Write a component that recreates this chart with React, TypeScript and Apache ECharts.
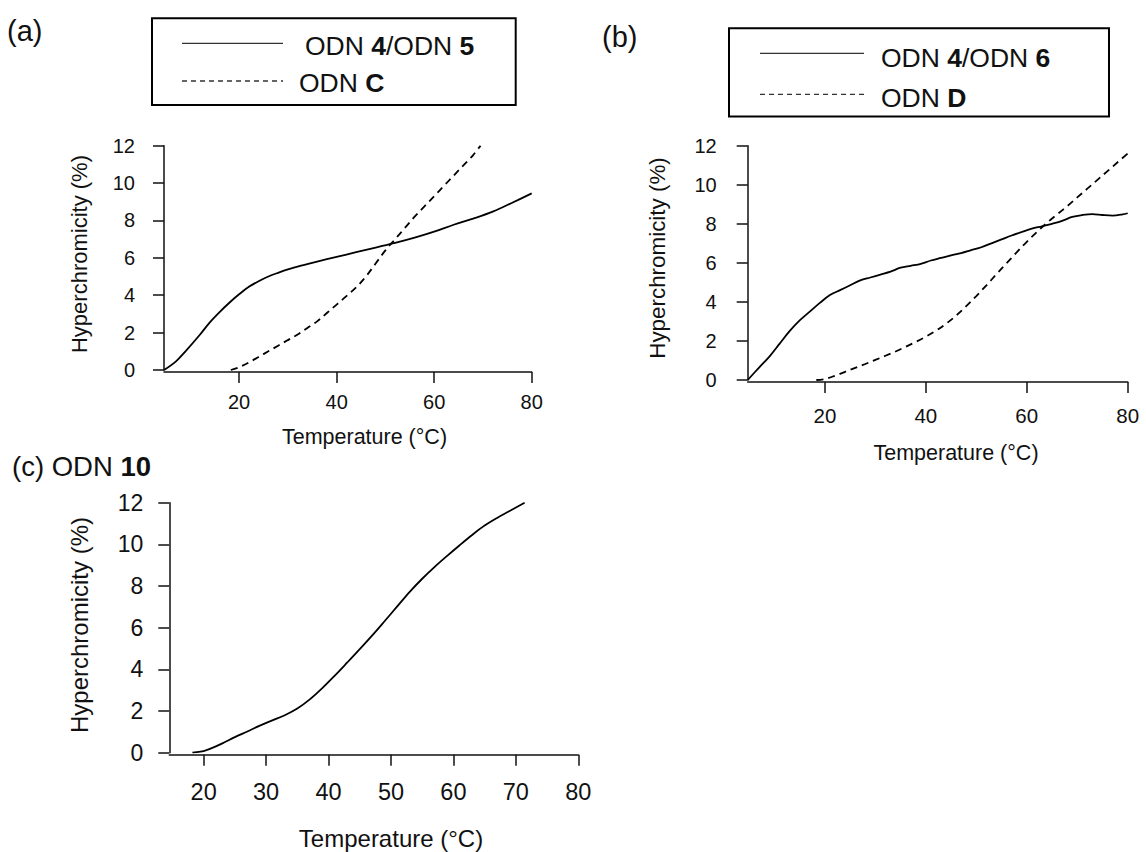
import React, { useEffect, useRef } from "react";
import * as echarts from "echarts";

// ---------- Data ----------
// Panel (a): ODN 4/ODN 5 (solid) and ODN C (dashed)
const tempA1 = [4.6, 7, 9, 12, 14, 16, 18, 20, 22, 24, 26, 28, 30, 33, 36, 40, 44, 48, 52, 56, 60, 64, 68, 72, 76, 80];
const hypA1 = [0, 0.45, 1.0, 1.9, 2.55, 3.1, 3.6, 4.05, 4.45, 4.75, 5.0, 5.2, 5.38, 5.6, 5.8, 6.05, 6.3, 6.55, 6.8, 7.08, 7.4, 7.77, 8.1, 8.47, 8.95, 9.45];
const tempA2 = [18.3, 20, 22, 24, 26, 28, 30, 32, 34, 36, 38, 40, 42, 44, 46, 48, 50, 52, 54, 56, 58, 60, 62, 64, 66, 68, 69.5];
const hypA2 = [0, 0.15, 0.4, 0.7, 1.0, 1.3, 1.6, 1.9, 2.25, 2.6, 3.05, 3.5, 3.95, 4.42, 5.0, 5.7, 6.4, 7.0, 7.6, 8.2, 8.75, 9.3, 9.85, 10.4, 10.95, 11.5, 12.0];

// Panel (b): ODN 4/ODN 6 (solid) and ODN D (dashed)
const tempB1 = [4.7, 7, 9, 11, 13, 15, 17, 19, 21, 23, 25, 27, 29, 31, 33, 35, 37, 39, 41, 43, 45, 47, 49, 51, 53, 55, 57, 59, 61, 63, 65, 67, 69, 71, 73, 75, 77, 79, 80];
const hypB1 = [0, 0.65, 1.2, 1.85, 2.5, 3.05, 3.5, 3.95, 4.35, 4.6, 4.85, 5.1, 5.25, 5.4, 5.55, 5.75, 5.85, 5.95, 6.12, 6.25, 6.38, 6.5, 6.65, 6.8, 7.0, 7.2, 7.4, 7.58, 7.75, 7.87, 8.0, 8.15, 8.35, 8.45, 8.5, 8.45, 8.42, 8.48, 8.54];
const tempB2 = [18.3, 20, 22, 24, 26, 28, 30, 32, 34, 36, 38, 40, 42, 44, 46, 48, 50, 52, 54, 56, 58, 60, 62, 64, 66, 68, 70, 72, 74, 76, 78, 80];
const hypB2 = [0, 0.05, 0.22, 0.42, 0.62, 0.82, 1.03, 1.24, 1.46, 1.7, 1.95, 2.22, 2.52, 2.88, 3.3, 3.78, 4.3, 4.85, 5.42, 5.98, 6.54, 7.08, 7.58, 8.05, 8.48, 8.9, 9.35, 9.8, 10.25, 10.7, 11.15, 11.6];

// Panel (c): ODN 10
const tempC = [18.2, 20, 21, 23, 25, 27, 29, 31, 33, 35, 37, 39, 41, 43, 45, 47, 49, 51, 53, 55, 57, 59, 61, 63, 65, 67, 69, 71.4];
const hypC = [0, 0.08, 0.18, 0.45, 0.75, 1.02, 1.3, 1.55, 1.8, 2.12, 2.56, 3.1, 3.7, 4.33, 4.97, 5.63, 6.32, 7.02, 7.72, 8.35, 8.92, 9.45, 9.96, 10.45, 10.9, 11.27, 11.6, 12.0];

const xTicksAB = [20, 40, 60, 80];
const xTicksC = [20, 30, 40, 50, 60, 70, 80];

const xTitle = "Temperature (°C)";
const yTitle = "Hyperchromicity (%)";

const FONT = '"Liberation Sans", Arial, Helvetica, sans-serif';
const INK = "#111";

const pairs = (xs: number[], ys: number[]) => xs.map((x, i) => [x, ys[i]]);

function App() {
  const ref = useRef<HTMLDivElement>(null);

  useEffect(() => {
    if (!ref.current) return;
    const chart = echarts.init(ref.current, null, { renderer: "svg" });

    const xAxisBase = (gridIndex: number, min: number, ticks: number[], fontSize: number, margin: number) => ({
      type: "value",
      gridIndex,
      min,
      max: 80,
      offset: 2,
      axisLine: { show: true, onZero: false, lineStyle: { color: INK, width: 1.5 } },
      axisTick: { show: true, length: 11, customValues: ticks, lineStyle: { color: INK, width: 1.5 } },
      axisLabel: { customValues: ticks, fontSize, fontFamily: FONT, color: INK, margin },
      splitLine: { show: false },
    });
    const yAxisBase = (gridIndex: number, fontSize: number, margin: number) => ({
      type: "value",
      gridIndex,
      min: 0,
      max: 12,
      interval: 2,
      axisLine: { show: true, lineStyle: { color: INK, width: 1.5 } },
      axisTick: { show: true, length: 11, lineStyle: { color: INK, width: 1.5 } },
      axisLabel: { fontSize, fontFamily: FONT, color: INK, margin },
      splitLine: { show: false },
    });

    const lineSeries = (name: string, idx: number, data: number[][], dashed: boolean) => ({
      type: "line",
      name,
      xAxisIndex: idx,
      yAxisIndex: idx,
      data,
      smooth: 0.35,
      symbol: "none",
      showSymbol: false,
      lineStyle: { color: "#000", width: 1.8, type: dashed ? [7, 5] : "solid" },
      silent: true,
    });

    const txt = (text: string, x: number, y: number, fontSize: number, extra: any = {}) => ({
      type: "text",
      x,
      y,
      ...extra,
      style: {
        text,
        fontSize,
        fontFamily: FONT,
        fill: INK,
        textAlign: extra.align || "center",
        textVerticalAlign: "middle",
      },
    });
    const richTxt = (text: string, x: number, y: number, fontSize: number) => ({
      type: "text",
      x,
      y,
      style: {
        text,
        fontSize,
        fontFamily: FONT,
        fill: INK,
        textAlign: "left",
        textVerticalAlign: "middle",
        rich: {
          n: { fontSize, fontFamily: FONT, color: INK },
          b: { fontSize, fontFamily: FONT, color: INK, fontWeight: "bold" },
        },
      },
    });
    const hline = (x1: number, x2: number, y: number, dashed: boolean) => ({
      type: "line",
      shape: { x1, y1: y, x2, y2: y },
      style: { stroke: "#333", lineWidth: 1.3, lineDash: dashed ? [5, 4] : null },
    });
    const box = (x: number, y: number, w: number, h: number) => ({
      type: "rect",
      shape: { x, y, width: w, height: h },
      style: { fill: "none", stroke: "#000", lineWidth: 2 },
    });

    chart.setOption({
      animation: false,
      backgroundColor: "#fff",
      grid: [
        { left: 164, top: 145.7, width: 367.7, height: 224.3 },
        { left: 747.7, top: 145.7, width: 380, height: 234.3 },
        { left: 169.3, top: 502.7, width: 409, height: 250 },
      ],
      xAxis: [
        xAxisBase(0, 4.6, xTicksAB, 20, 20),
        xAxisBase(1, 4.7, xTicksAB, 20.5, 23),
        xAxisBase(2, 14.5, xTicksC, 23.5, 25),
      ],
      yAxis: [yAxisBase(0, 20, 29), yAxisBase(1, 20, 31), yAxisBase(2, 23, 26)],
      series: [
        lineSeries("ODN 4/ODN 5", 0, pairs(tempA1, hypA1), false),
        lineSeries("ODN C", 0, pairs(tempA2, hypA2), true),
        lineSeries("ODN 4/ODN 6", 1, pairs(tempB1, hypB1), false),
        lineSeries("ODN D", 1, pairs(tempB2, hypB2), true),
        lineSeries("ODN 10", 2, pairs(tempC, hypC), false),
      ],
      graphic: [
        // panel labels
        txt("(a)", 7, 31, 29, { align: "left" }),
        txt("(b)", 602, 37, 29, { align: "left" }),
        richTxt("{n|(c) ODN }{b|10}", 12, 466, 27.5),
        // legend (a)
        box(152, 18.3, 363.7, 86.7),
        hline(182, 283, 43.3, false),
        hline(182, 283, 81, true),
        richTxt("{n|ODN }{b|4}{n|/ODN }{b|5}", 305, 46, 26.5),
        richTxt("{n|ODN }{b|C}", 299, 82.5, 26.5),
        // legend (b)
        box(729, 28.3, 380, 88.3),
        hline(760, 864, 53.3, false),
        hline(760, 864, 94.3, true),
        richTxt("{n|ODN }{b|4}{n|/ODN }{b|6}", 881, 58, 26.5),
        richTxt("{n|ODN }{b|D}", 881, 97.5, 26.5),
        // axis titles
        txt(xTitle, 364.5, 437, 21.5),
        txt(yTitle, 79, 254, 22, { rotation: Math.PI / 2 }),
        txt(xTitle, 956, 453, 21.5),
        txt(yTitle, 657, 258, 22.4, { rotation: Math.PI / 2 }),
        txt(xTitle, 391, 838, 24),
        txt(yTitle, 79.5, 625, 24, { rotation: Math.PI / 2 }),
      ],
    });

    return () => chart.dispose();
  }, []);

  return (
    <div
      ref={ref}
      style={{ position: "fixed", left: 0, top: 0, width: 1146, height: 852, background: "#fff" }}
    />
  );
}

export default App;
